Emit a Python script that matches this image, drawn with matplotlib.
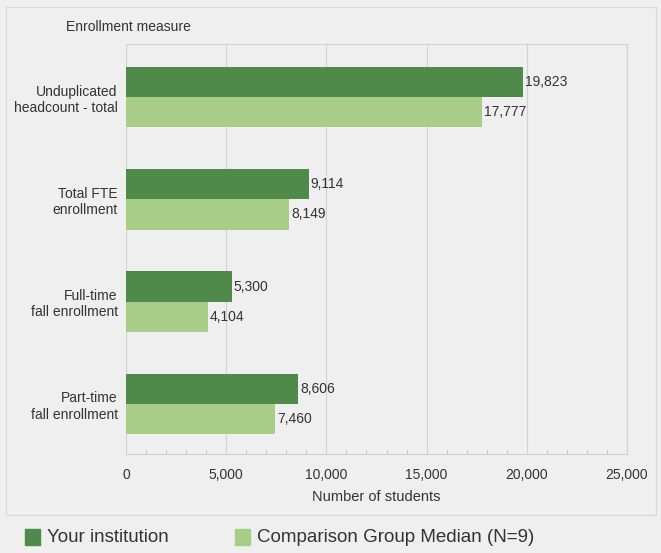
import matplotlib.pyplot as plt
import numpy as np
from matplotlib.patches import Rectangle

plt.rcParams['font.family'] = ['Liberation Sans', 'DejaVu Sans']

# Data
categories = ["Unduplicated\nheadcount - total", "Total FTE\nenrollment",
              "Full-time\nfall enrollment", "Part-time\nfall enrollment"]
your_institution = [19823, 9114, 5300, 8606]
comparison_median = [17777, 8149, 4104, 7460]
x_ticks = [0, 5000, 10000, 15000, 20000, 25000]

dark_green = "#4f8a4b"
light_green = "#a7cd86"
bg = "#efefef"
grid_col = "#d2d2d2"
txt = "#333333"

fig = plt.figure(figsize=(6.61, 5.53), dpi=100)
fig.patch.set_facecolor(bg)

ax = fig.add_axes([126/661, 1-454/553, 501/661, 410/553])
ax.set_facecolor(bg)

y = np.arange(len(categories))
h = 0.295
b1 = ax.barh(y - h/2, your_institution, height=h, color=dark_green, zorder=3)
b2 = ax.barh(y + h/2, comparison_median, height=h, color=light_green, zorder=3)

# value labels at the end of each bar
for bars, vals in [(b1, your_institution), (b2, comparison_median)]:
    for bar, v in zip(bars, vals):
        ax.text(v + 80, bar.get_y() + bar.get_height()/2, f"{v:,}",
                va='center', ha='left', fontsize=10, color=txt)

ax.set_xlim(0, 25000)
ax.set_ylim(3.49, -0.52)
ax.set_xticks(x_ticks)
ax.set_xticklabels([f"{t:,}" for t in x_ticks], fontsize=10, color=txt)
ax.set_xticks(np.arange(0, 25001, 1000), minor=True)
ax.tick_params(axis='x', which='major', length=0, pad=10)
ax.tick_params(axis='x', which='minor', length=3, color="#bbbbbb", direction='in')
ax.set_yticks(y)
ax.set_yticklabels(categories, fontsize=10, color=txt, ma='right')
ax.tick_params(axis='y', length=0, pad=6)
ax.xaxis.grid(True, color=grid_col, linewidth=0.8, zorder=0)
for s in ax.spines.values():
    s.set_color(grid_col)
    s.set_linewidth(0.8)
ax.spines['left'].set_visible(False)
ax.set_xlabel("Number of students", fontsize=10.5, color=txt, labelpad=6)

fig.text(66/661, 1-27/553, "Enrollment measure", fontsize=10, color=txt, va='center')

# outer frame above the legend
fig.add_artist(Rectangle((6/661, 1-515/553), 650/661, 508/553, transform=fig.transFigure,
                         fill=False, edgecolor="#d8d8d8", linewidth=0.8))

# legend
fig.add_artist(Rectangle((25/661, 1-545/553), 15/661, 16/553, transform=fig.transFigure,
                         color=dark_green))
fig.text(47/661, 1-537/553, "Your institution", fontsize=13.5, color=txt, va='center')
fig.add_artist(Rectangle((235/661, 1-545/553), 15/661, 16/553, transform=fig.transFigure,
                         color=light_green))
fig.text(257/661, 1-537/553, "Comparison Group Median (N=9)", fontsize=13.5, color=txt, va='center')

fig.savefig("out.png", dpi=100, facecolor=bg)
